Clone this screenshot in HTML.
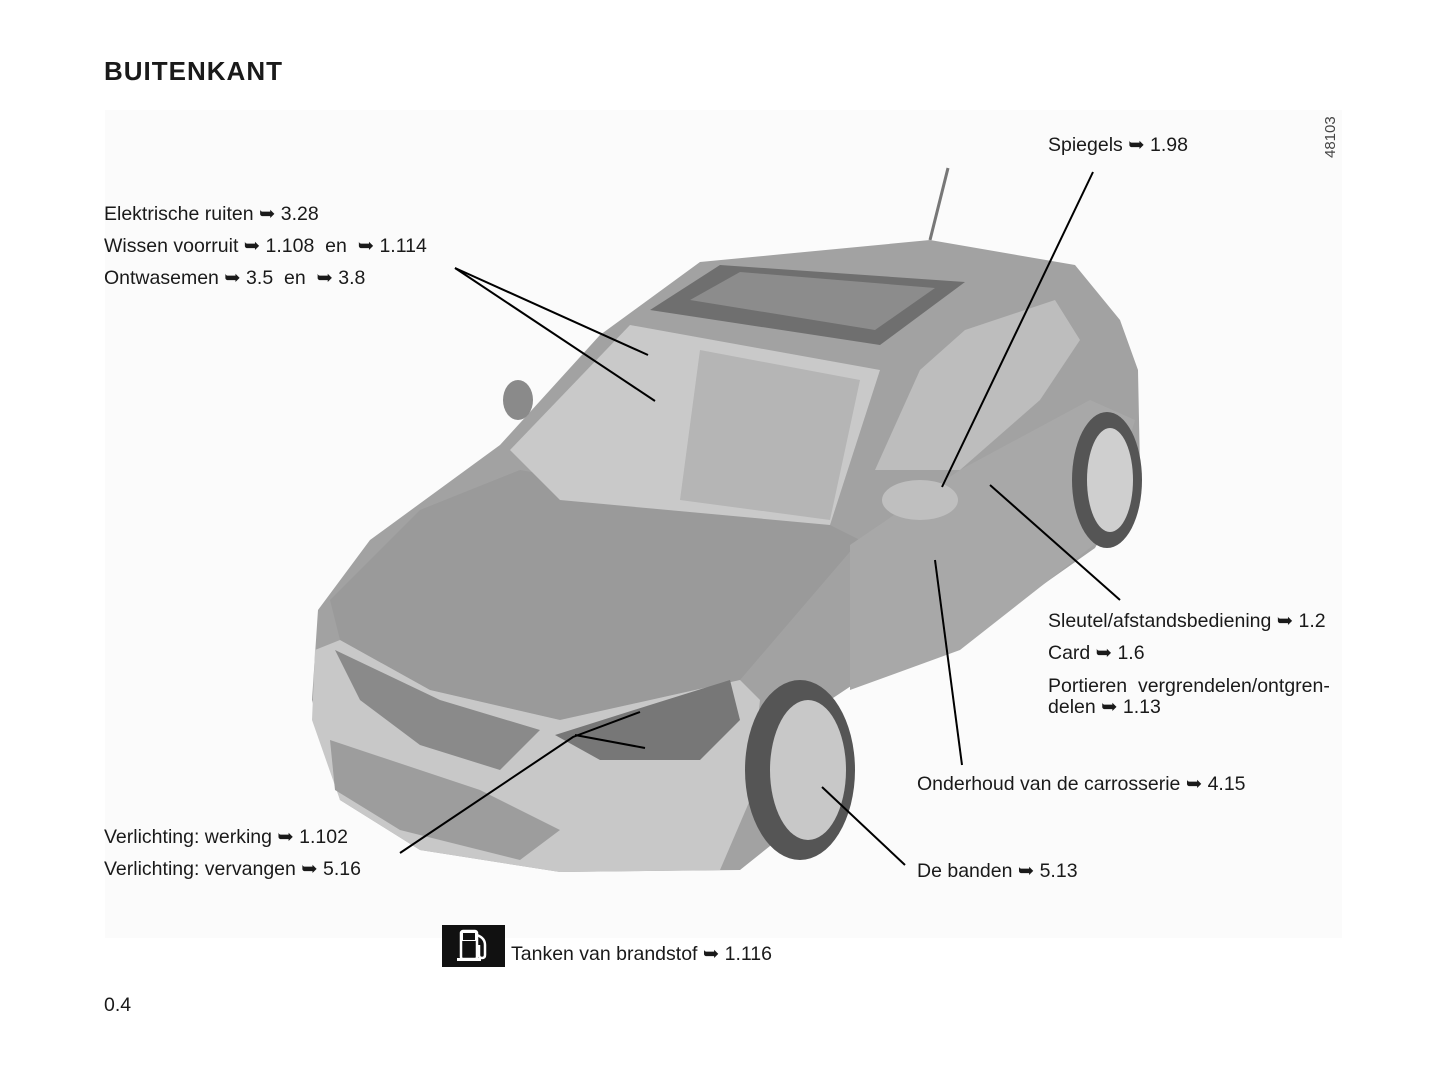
<!DOCTYPE html>
<html><head><meta charset="utf-8"><style>
html,body{margin:0;padding:0;background:#fff;}
body{width:1445px;height:1088px;position:relative;overflow:hidden;font-family:"Liberation Sans",Arial,sans-serif;color:#1a1a1a;}
.t{position:absolute;font-size:19.5px;white-space:nowrap;line-height:20px;}
h1{position:absolute;left:104px;top:56px;margin:0;font-size:26px;font-weight:bold;letter-spacing:1px;}
</style></head><body>
<h1>BUITENKANT</h1>
<svg width="1445" height="1088" style="position:absolute;left:0;top:0">
<rect x="105" y="110" width="1237" height="828" fill="#fbfbfb"/>
<line x1="948" y1="168" x2="930" y2="240" stroke="#777" stroke-width="3"/>
<polygon points="318,610 370,540 500,445 600,335 700,262 930,240 1075,265 1120,320 1138,370 1140,470 1095,548 950,650 860,680 830,700 790,830 740,870 560,872 420,850 340,800 312,700" fill="#a2a2a2"/>
<polygon points="330,600 420,510 520,470 830,525 860,540 740,680 560,720 430,690 340,640" fill="#9a9a9a"/>
<polygon points="315,650 340,640 430,690 560,720 740,680 760,700 750,800 720,870 560,872 420,850 340,800 312,720" fill="#c8c8c8"/>
<polygon points="335,650 440,700 540,730 500,770 420,745 360,700" fill="#8a8a8a"/>
<polygon points="330,740 480,790 560,830 520,860 400,830 335,790" fill="#9d9d9d"/>
<polygon points="555,735 650,705 730,680 740,720 700,760 600,760" fill="#777"/>
<polygon points="510,450 630,325 880,370 830,525 560,500" fill="#c9c9c9"/>
<polygon points="700,350 860,380 830,520 680,500" fill="#b5b5b5"/>
<polygon points="650,310 720,265 965,282 880,345" fill="#6f6f6f"/>
<polygon points="690,300 740,272 935,288 875,330" fill="#8c8c8c"/>
<polygon points="875,470 920,370 965,330 1055,300 1080,340 1040,400 960,470" fill="#bdbdbd"/>
<polygon points="850,545 960,470 1090,400 1135,420 1100,540 960,650 850,690" fill="#a8a8a8"/>
<ellipse cx="920" cy="500" rx="38" ry="20" fill="#bfbfbf"/>
<ellipse cx="518" cy="400" rx="15" ry="20" fill="#8a8a8a"/>
<ellipse cx="800" cy="770" rx="55" ry="90" fill="#555"/>
<ellipse cx="808" cy="770" rx="38" ry="70" fill="#c8c8c8"/>
<ellipse cx="1107" cy="480" rx="35" ry="68" fill="#555"/>
<ellipse cx="1110" cy="480" rx="23" ry="52" fill="#cfcfcf"/>
<g stroke="#000" stroke-width="2" fill="none">
<line x1="455" y1="268" x2="648" y2="355"/>
<line x1="455" y1="268" x2="655" y2="401"/>
<line x1="1093" y1="172" x2="942" y2="487"/>
<line x1="990" y1="485" x2="1120" y2="600"/>
<line x1="935" y1="560" x2="962" y2="765"/>
<polyline points="400,853 573,737 640,712"/>
<line x1="575" y1="735" x2="645" y2="748"/>
<line x1="822" y1="787" x2="905" y2="865"/>
</g>
<rect x="442" y="925" width="63" height="42" fill="#111"/>
<g fill="none" stroke="#fff" stroke-width="2.5">
<rect x="461" y="931" width="16" height="28" rx="2"/>
<path d="M477 935 q8 3 8 10 v10 q0 3 -3 3 q-3 0 -3 -3 v-10"/>
</g>
<rect x="461" y="931" width="16" height="10" fill="#fff"/>
<rect x="463" y="933" width="12" height="7" fill="#111"/>
<rect x="457" y="958" width="24" height="3" fill="#fff"/>
<text x="1335" y="158" transform="rotate(-90 1335 158)" font-size="15" fill="#444" font-family="Liberation Sans">48103</text>
</svg>
<div class="t" style="left:1048px;top:135px">Spiegels ➥ 1.98</div>
<div class="t" style="left:104px;top:204px">Elektrische ruiten ➥ 3.28</div>
<div class="t" style="left:104px;top:236px">Wissen voorruit ➥ 1.108&nbsp; en &nbsp;➥ 1.114</div>
<div class="t" style="left:104px;top:268px">Ontwasemen ➥ 3.5&nbsp; en &nbsp;➥ 3.8</div>
<div class="t" style="left:1048px;top:611px">Sleutel/afstandsbediening ➥ 1.2</div>
<div class="t" style="left:1048px;top:643px">Card ➥ 1.6</div>
<div class="t" style="left:1048px;top:676px">Portieren&nbsp; vergrendelen/ontgren-</div>
<div class="t" style="left:1048px;top:697px">delen ➥ 1.13</div>
<div class="t" style="left:917px;top:774px">Onderhoud van de carrosserie ➥ 4.15</div>
<div class="t" style="left:104px;top:827px">Verlichting: werking ➥ 1.102</div>
<div class="t" style="left:104px;top:859px">Verlichting: vervangen ➥ 5.16</div>
<div class="t" style="left:917px;top:861px">De banden ➥ 5.13</div>
<div class="t" style="left:511px;top:944px">Tanken van brandstof ➥ 1.116</div>
<div class="t" style="left:104px;top:995px">0.4</div>
</body></html>
